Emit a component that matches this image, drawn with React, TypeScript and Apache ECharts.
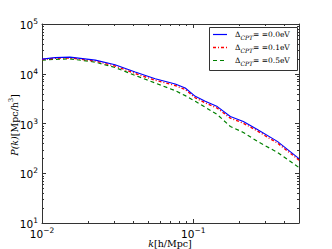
import React, { useEffect, useRef } from 'react';
import * as echarts from 'echarts';

// wavenumber k [h/Mpc]
const kValues = [0.01, 0.0122, 0.0153, 0.0225, 0.0304, 0.0413, 0.056, 0.076, 0.0885, 0.1031, 0.12, 0.1442, 0.1758, 0.2143, 0.2654, 0.3597, 0.5];
// P(k) for the three cases
const pCpt00 = [19680, 21090, 21580, 18790, 15140, 10810, 7940, 6220, 5180, 3520, 2790, 2190, 1380, 1096, 759, 437, 197];
const pCpt01 = [19300, 20500, 20800, 18000, 14300, 10100, 7400, 5800, 4820, 3280, 2600, 2030, 1280, 1015, 705, 405, 184];
const pCpt05 = [18790, 19500, 19950, 17140, 13370, 9250, 6520, 4570, 3630, 2790, 2120, 1510, 871, 661, 437, 263, 130];

const seriesNames = ['Δ_CPT= =0.0eV', 'Δ_CPT= =0.1eV', 'Δ_CPT= =0.5eV'];
const legendValues = ['= =0.0eV', '= =0.1eV', '= =0.5eV'];
const seriesColors = ['#0000ff', '#ff0000', '#008000'];
const seriesDash: any[] = ['solid', [3, 2, 1, 2], [4, 3]];

const xMin = 0.01;
const xMax = 0.5;
const yMin = 10;
const yMax = 100000;

const xMinorTicks = [0.02, 0.03, 0.04, 0.05, 0.06, 0.07, 0.08, 0.09, 0.2, 0.3, 0.4];
const yMinorTicks = [
  20, 30, 40, 50, 60, 70, 80, 90,
  200, 300, 400, 500, 600, 700, 800, 900,
  2000, 3000, 4000, 5000, 6000, 7000, 8000, 9000,
  20000, 30000, 40000, 50000, 60000, 70000, 80000, 90000,
];

const AX = '#333';

const tickRich = {
  b: { fontFamily: 'DejaVu Sans', fontSize: 10.5, color: '#000', lineHeight: 13, verticalAlign: 'bottom' },
  s: { fontFamily: 'DejaVu Sans', fontSize: 7.5, color: '#000', lineHeight: 8, verticalAlign: 'top' },
};

function powLabel(v: number) {
  const e = Math.log10(v);
  const r = Math.round(e);
  if (Math.abs(e - r) > 1e-6) return '';
  const exp = r < 0 ? '\u2212' + String(-r) : String(r);
  return `{b|10}{s|${exp}}`;
}

export default function App() {
  const ref = useRef<HTMLDivElement>(null);
  useEffect(() => {
    if (!ref.current) return;
    const chart = echarts.init(ref.current, null, { renderer: 'svg' });
    const lineData = (arr: number[]) => kValues.map((k, i) => [k, arr[i]]);
    const baseAxis = (pos: string, labels: boolean, isX: boolean) => ({
      type: 'log',
      logBase: 10,
      min: isX ? xMin : yMin,
      max: isX ? xMax : yMax,
      position: pos,
      axisLine: { show: true, onZero: false, lineStyle: { color: AX, width: 1 } },
      axisTick: { show: true, inside: true, length: 4, lineStyle: { color: AX, width: 1 } },
      axisLabel: labels
        ? { show: true, formatter: powLabel, rich: tickRich, margin: isX ? 3 : 4, color: '#000' }
        : { show: false },
      splitLine: { show: false },
      minorTick: { show: false },
    });
    const tickStyle = { stroke: AX, lineWidth: 1 };

    // legend drawn as graphic elements
    const lgX = 209, lgY = 27, lgW = 88, lgH = 43;
    const rowY = [34.5, 47.5, 60.5];
    const legendEls: any[] = [
      { type: 'rect', shape: { x: lgX + 0.5, y: lgY + 0.5, width: lgW, height: lgH }, style: { fill: '#fff', stroke: AX, lineWidth: 1 }, z: 100 },
    ];
    legendValues.forEach((val, i) => {
      const lineStyle: any = { stroke: seriesColors[i], lineWidth: i === 1 ? 1.6 : 1.2, opacity: 1 };
      if (seriesDash[i] !== 'solid') lineStyle.lineDash = seriesDash[i];
      legendEls.push({
        type: 'line',
        shape: { x1: 213, y1: rowY[i], x2: 227, y2: rowY[i] },
        style: lineStyle,
        z: 101,
      });
      legendEls.push({
        type: 'text',
        x: 235,
        y: rowY[i],
        z: 101,
        style: {
          text: `{d|Δ}{c|CPT}{t|${val}}`,
          align: 'left',
          verticalAlign: 'middle',
          rich: {
            d: { fontFamily: 'DejaVu Serif', fontSize: 7.5, fill: '#000', lineHeight: 11 },
            c: { fontFamily: 'DejaVu Serif', fontStyle: 'italic', fontSize: 6, fill: '#000', lineHeight: 8, verticalAlign: 'bottom' },
            t: { fontFamily: 'DejaVu Serif', fontSize: 7.5, fill: '#000', lineHeight: 11 },
          },
        },
      });
    });

    const option: any = {
      animation: false,
      backgroundColor: '#fff',
      grid: { left: 42, right: 33, top: 24, bottom: 26, outerBoundsMode: 'none' },
      xAxis: [baseAxis('bottom', true, true), baseAxis('top', false, true)],
      yAxis: [baseAxis('left', true, false), baseAxis('right', false, false)],
      graphic: [
        {
          type: 'text',
          x: 13,
          y: 125,
          rotation: Math.PI / 2,
          style: {
            text: '{i|P(k)}{r|[Mpc/h}{s|3}{r|]}',
            align: 'center',
            verticalAlign: 'middle',
            rich: {
              i: { fontFamily: 'DejaVu Serif', fontStyle: 'italic', fontSize: 9.5, fill: '#000', lineHeight: 12, verticalAlign: 'bottom' },
              r: { fontFamily: 'DejaVu Serif', fontSize: 9.5, fill: '#000', lineHeight: 12, verticalAlign: 'bottom' },
              s: { fontFamily: 'DejaVu Serif', fontSize: 6.5, fill: '#000', lineHeight: 7, verticalAlign: 'top' },
            },
          },
        },
        {
          type: 'text',
          x: 170,
          y: 243.5,
          style: {
            text: '{i|k}{r|[h/Mpc]}',
            align: 'center',
            verticalAlign: 'middle',
            rich: {
              i: { fontFamily: 'DejaVu Serif', fontStyle: 'italic', fontSize: 9.5, fill: '#000' },
              r: { fontFamily: 'DejaVu Serif', fontSize: 9.5, fill: '#000' },
            },
          },
        },
        ...legendEls,
      ],
      series: [
        {
          name: seriesNames[0], type: 'line', data: lineData(pCpt00), symbol: 'none', smooth: false,
          lineStyle: { color: seriesColors[0], width: 1.1, type: seriesDash[0] }, z: 4,
        },
        {
          name: seriesNames[1], type: 'line', data: lineData(pCpt01), symbol: 'none', smooth: false,
          lineStyle: { color: seriesColors[1], width: 1.4, type: seriesDash[1] }, z: 3,
        },
        {
          name: seriesNames[2], type: 'line', data: lineData(pCpt05), symbol: 'none', smooth: false,
          lineStyle: { color: seriesColors[2], width: 1.2, type: seriesDash[2] }, z: 2,
        },
        {
          name: 'xminor', type: 'custom', silent: true, clip: false,
          data: xMinorTicks.map((v) => [v, yMin]),
          encode: { x: 0, y: 1 },
          renderItem: (_p: any, api: any) => {
            const v = api.value(0);
            const b = api.coord([v, yMin]);
            const t = api.coord([v, yMax]);
            const x = Math.round(b[0]) + 0.5;
            return {
              type: 'group',
              children: [
                { type: 'line', shape: { x1: x, y1: b[1], x2: x, y2: b[1] - 2 }, style: tickStyle },
                { type: 'line', shape: { x1: x, y1: t[1], x2: x, y2: t[1] + 2 }, style: tickStyle },
              ],
            };
          },
        },
        {
          name: 'yminor', type: 'custom', silent: true, clip: false,
          data: yMinorTicks.map((v) => [xMin, v]),
          encode: { x: 0, y: 1 },
          renderItem: (_p: any, api: any) => {
            const v = api.value(1);
            const l = api.coord([xMin, v]);
            const r = api.coord([xMax, v]);
            const y = Math.round(l[1]) + 0.5;
            return {
              type: 'group',
              children: [
                { type: 'line', shape: { x1: l[0], y1: y, x2: l[0] + 2, y2: y }, style: tickStyle },
                { type: 'line', shape: { x1: r[0], y1: y, x2: r[0] - 2, y2: y }, style: tickStyle },
              ],
            };
          },
        },
      ],
    };
    chart.setOption(option);
    return () => chart.dispose();
  }, []);
  return (
    <div
      ref={ref}
      style={{ position: 'absolute', left: 0, top: 0, width: 332, height: 249 }}
    />
  );
}
